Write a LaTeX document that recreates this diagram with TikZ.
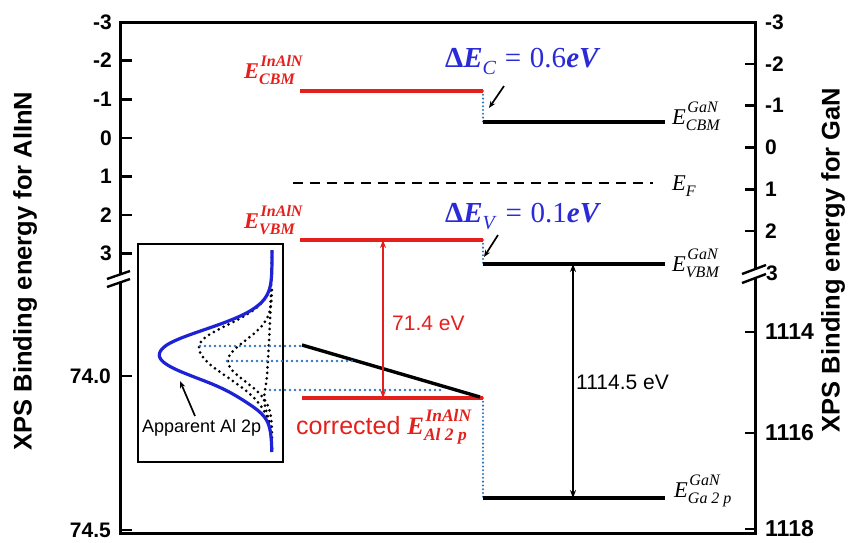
\documentclass[tikz,border=0pt]{standalone}
\usepackage{fontspec}
\setmainfont{Liberation Serif}
\newfontfamily\arialfont{Liberation Sans}
\usetikzlibrary{arrows.meta,positioning,calc}
\definecolor{lvlred}{HTML}{E4201C}
\definecolor{curveblue}{HTML}{1E22D6}
\definecolor{dotblue}{HTML}{2F74BC}
\definecolor{labblue}{HTML}{2A2AD8}
\tikzset{
  axisframe/.style = {line width=3pt},
  tickline/.style  = {line width=2.6pt},
  breakline/.style = {line width=2.4pt},
  bandline/.style  = {line width=3.4pt},
  redband/.style   = {bandline, lvlred},
  fermi/.style     = {line width=2.6pt, dash pattern=on 10pt off 7pt},
  guide/.style     = {dotblue, line width=2.8pt, dash pattern=on 0pt off 5pt, line cap=round},
  vguide/.style    = {dotblue, line width=2.3pt, dash pattern=on 0pt off 3.8pt, line cap=round},
  comp/.style      = {line width=3pt, dash pattern=on 0pt off 5.5pt, line cap=round},
  sig/.style       = {{Stealth[length=8pt,width=6pt]}-{Stealth[length=8pt,width=6pt]}, line width=1.8pt},
  pointer/.style   = {-{Stealth[length=7pt,width=5.5pt]}, line width=1.7pt},
  ticklab/.style   = {inner sep=0pt, font=\arialfont\bfseries\fontsize{21}{24}\selectfont},
  bigtick/.style   = {inner sep=0pt, font=\arialfont\bfseries\fontsize{23}{26}\selectfont},
  axtitle/.style   = {inner sep=0pt, rotate=90, font=\arialfont\bfseries\fontsize{25.5}{30}\selectfont},
  elab/.style      = {inner sep=0pt, anchor=base west, font=\fontsize{22.5}{26}\selectfont},
  deltalab/.style  = {inner sep=0pt, anchor=base west, labblue, font=\fontsize{29}{33}\selectfont},
  evlab/.style     = {inner sep=0pt, anchor=base west, font=\arialfont\fontsize{21}{24}\selectfont},
}
\newcommand{\bi}[1]{\textbf{\textit{#1}}}
% symbol with stacked super- and subscript: #1 symbol, #2 sup, #3 sub, #4 script size
\newcommand{\lvlsym}[4]{#1\rlap{\kern1.5pt\raisebox{0.52em}{\fontsize{#4}{#4}\selectfont #2}}%
  \raisebox{-0.27em}{\fontsize{#4}{#4}\selectfont #3}}

\begin{document}
\begin{tikzpicture}[x=1pt,y=-1pt,
  declare function={sq(\u)=\u*\u;
    gone(\u)=73*exp(-sq((\u-347)/((\u<347)?31.5:43)));
    gtwo(\u)=44*exp(-sq((\u-361)/29));
    gthree(\u)=6*exp(-sq((\u-400)/14));}]
\useasboundingbox (0,0) rectangle (850,542);
% frame and scales
\draw[axisframe] (120,22) rectangle (755,533);
\foreach \v [count=\i] in {-3,...,3}{
  \draw[tickline] (120,{22+38.6*(\v+3)}) -- ++(12,0);
  \node[ticklab,anchor=east] (yl\i) at (112,{22+38.6*(\v+3)}) {\v};
}
\foreach \v/\yy [count=\i] in {74.0/376,74.5/530}{
  \draw[tickline] (120,\yy) -- ++(12,0);
  \node[ticklab,anchor=east] (ylb\i) at (111,\yy) {\v};
}
\foreach \v [count=\i] in {-3,...,2}{
  \draw[tickline] (755,{22+41.8*(\v+3)}) -- ++(-10,0);
  \node[ticklab,anchor=west] (yr\i) at (765,{22+41.8*(\v+3)}) {\v};
}
\node[ticklab,anchor=west] (yr7) at (766,273) {3};
\foreach \v/\yy [count=\i] in {1114/332,1116/433,1118/529}{
  \draw[tickline] (755,\yy) -- ++(-10,0);
  \node[bigtick,anchor=west] (yrb\i) at (765,\yy) {\v};
}
% axis breaks
\fill[white] (107,279) -- (130,271) -- (130,279) -- (107,287) -- cycle;
\draw[breakline] (107,279) -- (130,271) (107,287) -- (130,279);
\fill[white] (742,274) -- (766,265) -- (766,274) -- (742,283) -- cycle;
\draw[breakline] (742,274) -- (766,265) (742,283) -- (766,274);
\node[axtitle] (ytitleL) at (25,271) {XPS Binding energy for AlInN};
\node[axtitle] (ytitleR) at (833,260) {XPS Binding energy for GaN};
% band levels
\coordinate (cbmL) at (300,91);  \coordinate (cbmM) at (483,91);
\coordinate (cbmG) at (483,122); \coordinate (cbmR) at (665,122);
\coordinate (efL) at (293,183);  \coordinate (efR) at (653,183);
\coordinate (vbmL) at (300,240); \coordinate (vbmM) at (483,240);
\coordinate (vbmG) at (483,264); \coordinate (vbmR) at (665,264);
\coordinate (alL) at (302,398);  \coordinate (alR) at (483,398);
\coordinate (gaL) at (483,498);  \coordinate (gaR) at (665,498);
\coordinate (slopeL) at (302,345); \coordinate (slopeR) at (480,397);
\draw[vguide] (cbmM) -- (cbmG);
\draw[vguide] (vbmM) -- (vbmG);
\draw[vguide] (alR) -- (gaL);
\draw[redband] (cbmL) -- (cbmM);
\draw[bandline] (cbmG) -- (cbmR);
\draw[fermi] (efL) -- (efR);
\draw[redband] (vbmL) -- (vbmM);
\draw[bandline] (vbmG) -- (vbmR);
\draw[redband] (alL) -- (alR);
\draw[bandline] (gaL) -- (gaR);
\draw[bandline] (slopeL) -- (slopeR);
% energy separations
\coordinate (redTop) at (383,240); \coordinate (redBot) at (383,398);
\coordinate (blkTop) at (573,264); \coordinate (blkBot) at (573,498);
\draw[sig,lvlred] (redTop) -- (redBot);
\draw[sig] (blkTop) -- (blkBot);
\node[evlab,lvlred] (sepAl) at (392,330) {71.4 eV};
\node[evlab] (sepGa) at (576,389) {1114.5 eV};
% offsets
\coordinate (dcTail) at (504,86);  \coordinate (dcHead) at (489,108);
\coordinate (dvTail) at (498,235); \coordinate (dvHead) at (484,257);
\draw[pointer] (dcTail) -- (dcHead);
\draw[pointer] (dvTail) -- (dvHead);
\node[deltalab] (dEc) at (445,67)
  {\textbf{Δ\textit{E}}\raisebox{-0.25em}{\fontsize{20}{20}\selectfont\textit{C}}\hspace{0.3em}=\hspace{0.3em}0.6\bi{eV}};
\node[deltalab] (dEv) at (445,222)
  {\textbf{Δ\textit{E}}\raisebox{-0.25em}{\fontsize{20}{20}\selectfont\textit{V}}\hspace{0.3em}=\hspace{0.3em}0.1\bi{eV}};
% level labels
\node[elab,lvlred] (labCbmA) at (244,78) {\lvlsym{\bi{E}}{\bi{InAlN}}{\bi{CBM}}{16}};
\node[elab,lvlred] (labVbmA) at (244,228) {\lvlsym{\bi{E}}{\bi{InAlN}}{\bi{VBM}}{16}};
\node[elab] (labCbmG) at (672,124) {\lvlsym{\textit{E}}{\textit{GaN}}{\textit{CBM}}{16}};
\node[elab] (labEf) at (672,190) {\textit{E}\raisebox{-0.27em}{\fontsize{16}{16}\selectfont\textit{F}}};
\node[elab] (labVbmG) at (672,271) {\lvlsym{\textit{E}}{\textit{GaN}}{\textit{VBM}}{16}};
\node[elab] (labGa) at (674,497) {\lvlsym{\textit{E}}{\textit{GaN}}{\textit{Ga 2 p}}{16}};
\node[evlab,lvlred,font=\arialfont\fontsize{25}{28}\selectfont] (labAl) at (296,434)
  {corrected {\fontsize{25}{28}\selectfont\rmfamily\lvlsym{\bi{E}}{\bi{InAlN}}{\bi{Al 2 p}}{17.5}}};
% inset: Al 2p fit
\draw[line width=2.2pt] (138,244) rectangle (283,462);
\draw[comp] plot[smooth] coordinates {(272,252) (270,320) (267,375) (264,398) (266,410) (270,425) (272,450)};
\draw[comp] plot[domain=268:450,samples=70,smooth,variable=\t] ({272-gone(\t)},\t);
\draw[comp] plot[domain=290:440,samples=60,smooth,variable=\t] ({272-gtwo(\t)},\t);
\draw[curveblue,line width=3.2pt] plot[domain=250:452,samples=120,smooth,variable=\t]
  ({272-gone(\t)-gtwo(\t)-gthree(\t)},\t);
\coordinate (pkOne) at (200,346);   \coordinate (hitOne) at (302,346);
\coordinate (pkTwo) at (227,361);   \coordinate (hitTwo) at (353,361);
\coordinate (pkThree) at (270,390); \coordinate (hitThree) at (443,390);
\draw[guide] (pkOne) -- (hitOne);
\draw[guide] (pkTwo) -- (hitTwo);
\draw[guide] (pkThree) -- (hitThree);
\coordinate (apTail) at (195,416); \coordinate (apHead) at (180,381);
\draw[pointer] (apTail) -- (apHead);
\node[evlab,font=\arialfont\fontsize{18}{21}\selectfont] (labAp) at (142,432) {Apparent Al 2p};
\end{tikzpicture}
\end{document}
